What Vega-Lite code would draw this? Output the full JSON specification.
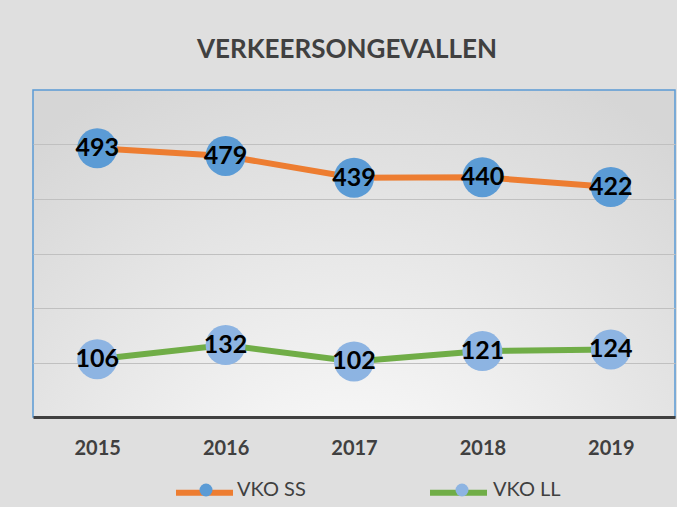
{
  "$schema": "https://vega.github.io/schema/vega-lite/v6.json",
  "width": 642,
  "height": 327,
  "autosize": {"type": "none"},
  "padding": {"left": 33, "top": 90, "right": 2, "bottom": 90},
  "background": "#dfdfdf",
  "title": {
    "text": "VERKEERSONGEVALLEN",
    "font": "Lato",
    "fontSize": 26,
    "fontWeight": "bold",
    "color": "#404040",
    "offset": 27,
    "dx": -7
  },
  "config": {
    "view": {
      "stroke": "#5B9BD5",
      "strokeWidth": 1.5,
      "fill": {
        "gradient": "radial",
        "x1": 0.5, "y1": 0.95, "r1": 0,
        "x2": 0.5, "y2": 0.95, "r2": 0.8,
        "stops": [
          {"offset": 0, "color": "#ffffff"},
          {"offset": 1, "color": "#d6d6d6"}
        ]
      }
    },
    "font": "Lato"
  },
  "data": {
    "values": [
      {"year": "2015", "VKO SS": 493, "VKO LL": 106},
      {"year": "2016", "VKO SS": 479, "VKO LL": 132},
      {"year": "2017", "VKO SS": 439, "VKO LL": 102},
      {"year": "2018", "VKO SS": 440, "VKO LL": 121},
      {"year": "2019", "VKO SS": 422, "VKO LL": 124}
    ]
  },
  "encoding": {
    "x": {
      "field": "year",
      "type": "ordinal",
      "scale": {"type": "point", "padding": 0.5},
      "axis": {
        "title": null,
        "labelAngle": 0,
        "labelFont": "Lato",
        "labelFontSize": 20,
        "labelFontWeight": "bold",
        "labelColor": "#404040",
        "labelPadding": 21,
        "ticks": false,
        "grid": false,
        "domainColor": "#404040",
        "domainWidth": 3
      }
    },
    "y": {
      "field": "value",
      "type": "quantitative",
      "scale": {"domain": [0, 600], "nice": false},
      "axis": {
        "title": null,
        "labels": false,
        "ticks": false,
        "domain": false,
        "grid": true,
        "values": [100, 200, 300, 400, 500],
        "gridColor": "#c0c0c0",
        "gridWidth": 1.2
      }
    }
  },
  "layer": [
    {
      "transform": [{"fold": ["VKO SS", "VKO LL"], "as": ["series", "value"]}],
      "mark": {"type": "line", "strokeWidth": 6},
      "encoding": {
        "stroke": {
          "field": "series",
          "type": "nominal",
          "scale": {"domain": ["VKO SS", "VKO LL"], "range": ["#ED7D31", "#70AD47"]},
          "legend": {
            "title": null,
            "orient": "none",
            "direction": "horizontal",
            "legendX": 140,
            "legendY": 371,
            "padding": 0,
            "symbolType": "stroke",
            "symbolSize": 3249,
            "symbolStrokeWidth": 6,
            "labelOffset": 0,
            "labelExpr": "''",
            "labelOpacity": 0,
            "columnPadding": 173
          }
        }
      }
    },
    {
      "transform": [{"fold": ["VKO SS", "VKO LL"], "as": ["reeks", "value"]}],
      "mark": {"type": "point", "filled": true, "size": 1600, "opacity": 1},
      "encoding": {
        "fill": {
          "field": "reeks",
          "type": "nominal",
          "sort": "descending",
          "scale": {"range": ["#5B9BD5", "#8DB4E2"]},
          "legend": {
            "title": null,
            "orient": "none",
            "direction": "horizontal",
            "legendX": 163,
            "legendY": 390,
            "padding": 0,
            "symbolType": "circle",
            "symbolSize": 169,
            "symbolStrokeWidth": 0,
            "symbolOpacity": 1,
            "labelOffset": 21,
            "labelFont": "Lato",
            "labelFontSize": 20,
            "labelColor": "#404040",
            "columnPadding": 146
          }
        }
      }
    },
    {
      "transform": [{"fold": ["VKO SS", "VKO LL"], "as": ["reeks", "value"]}],
      "mark": {"type": "text", "font": "Lato", "fontSize": 25, "fontWeight": "bold", "color": "#000000", "baseline": "middle", "align": "center"},
      "encoding": {
        "text": {"field": "value", "type": "quantitative"}
      }
    }
  ]
}
